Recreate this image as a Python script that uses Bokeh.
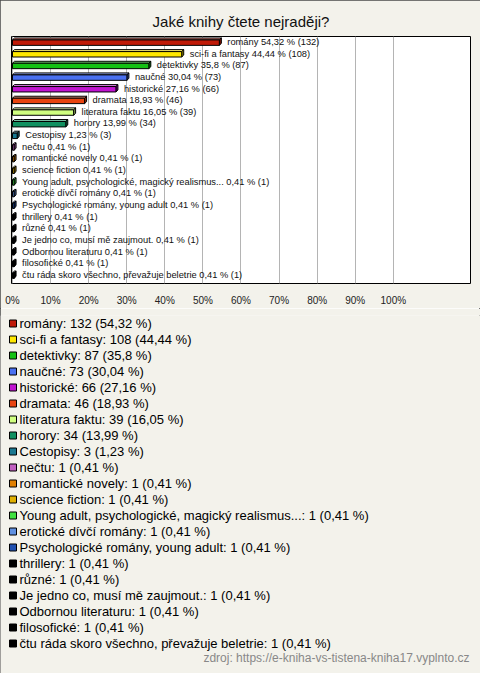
from bokeh.plotting import figure
from bokeh.layouts import column, row
from bokeh.models import Range1d, FixedTicker, PrintfTickFormatter, Label, ColumnDataSource
from bokeh.core.properties import value
from bokeh.embed import file_html
from bokeh.resources import INLINE

title_text = "Jaké knihy čtete nejraději?"
source_text = "zdroj: https://e-kniha-vs-tistena-kniha17.vyplnto.cz"

categories = [
    "romány", "sci-fi a fantasy", "detektivky", "naučné", "historické", "dramata",
    "literatura faktu", "horory", "Cestopisy", "nečtu", "romantické novely",
    "science fiction", "Young adult, psychologické, magický realismus...",
    "erotické dívčí romány", "Psychologické romány, young adult", "thrillery",
    "různé", "Je jedno co, musí mě zaujmout.", "Odbornou literaturu", "filosofické",
    "čtu ráda skoro všechno, převažuje beletrie",
]
counts = [132, 108, 87, 73, 66, 46, 39, 34, 3, 1, 1, 1, 1, 1, 1, 1, 1, 1, 1, 1, 1]
percents = [54.32, 44.44, 35.8, 30.04, 27.16, 18.93, 16.05, 13.99, 1.23,
            0.41, 0.41, 0.41, 0.41, 0.41, 0.41, 0.41, 0.41, 0.41, 0.41, 0.41, 0.41]
colors = ["#c01a08", "#ffe800", "#14c014", "#4a70f0", "#c014d0", "#e84410",
          "#d0ff80", "#109060", "#1a7890", "#c060c0", "#e08000", "#e0b000",
          "#40e040", "#6090e0", "#2050b0", "#000000", "#000000", "#000000",
          "#000000", "#000000", "#000000"]
tick_values = [0, 10, 20, 30, 40, 50, 60, 70, 80, 90, 100]

BG = "#f3f2eb"
FONT = "Liberation Sans"


def fmt(v):
    s = f"{v:.2f}".rstrip("0").rstrip(".")
    return s.replace(".", ",")


def mix(c, t, a):
    r, g, b = int(c[1:3], 16), int(c[3:5], 16), int(c[5:7], 16)
    return "#%02x%02x%02x" % tuple(int(round(x + (t - x) * a)) for x in (r, g, b))


bar_labels = [f"{c} {fmt(p)} % ({n})" for c, p, n in zip(categories, percents, counts)]
legend_labels = [f"{c}: {n} ({fmt(p)} %)" for c, p, n in zip(categories, percents, counts)]

# ---------------- bar chart ----------------
PX_X = 3.8      # px per percent
PX_Y = 11.84    # px per row
dx = 2.0 / PX_X
up = 2.0 / PX_Y
dn = 3.5 / PX_Y
dd = 2.0 / PX_Y

rows = list(range(len(categories)))

front = ColumnDataSource(dict(
    left=[0] * len(rows), right=percents,
    top=[r - up for r in rows], bottom=[r + dn for r in rows],
    color=colors))

top_xs, top_ys, side_xs, side_ys = [], [], [], []
for r, v in zip(rows, percents):
    t = r - up
    b = r + dn
    top_xs.append([0, dx, v + dx, v])
    top_ys.append([t, t - dd, t - dd, t])
    side_xs.append([v, v + dx, v + dx, v])
    side_ys.append([t, t - dd, b - dd, b])

p = figure(width=480, height=308, output_backend="svg", toolbar_location=None,
           x_range=Range1d(-0.26, 120.27), y_range=Range1d(20.735, -0.465),
           y_axis_location=None, min_border_left=11, min_border_right=10,
           min_border_top=36, min_border_bottom=21)
p.background_fill_color = "white"
p.border_fill_color = BG
p.outline_line_color = "black"
p.outline_line_width = 1
p.ygrid.visible = False
p.xgrid.grid_line_color = "#b4b4b4"
p.xgrid.ticker = FixedTicker(ticks=tick_values)

p.title.text = title_text
p.title.align = "center"
p.title.text_font = FONT
p.title.text_font_size = "15px"
p.title.text_font_style = "normal"
p.title.text_color = "#111111"
p.title.standoff = 14

ax = p.xaxis[0]
ax.ticker = FixedTicker(ticks=tick_values)
ax.formatter = PrintfTickFormatter(format="%d%%")
ax.axis_line_color = None
ax.major_tick_line_color = None
ax.minor_tick_line_color = None
ax.major_label_standoff = 5
ax.major_label_text_font = FONT
ax.major_label_text_font_size = "10px"
ax.major_label_text_color = "#222222"

p.patches(top_xs, top_ys, fill_color=[mix(c, 255, 0.45) for c in colors],
          line_color="black", line_width=1)
p.patches(side_xs, side_ys, fill_color=[mix(c, 0, 0.35) for c in colors],
          line_color="black", line_width=1)
p.quad(left="left", right="right", top="top", bottom="bottom", source=front,
       fill_color="color", line_color="black", line_width=1)

p.text(x=[v + dx for v in percents], y=rows, text=bar_labels,
       text_font=value(FONT), text_font_size="9.3px",
       text_baseline="middle", text_align="left", x_offset=6, text_color="#111111")

# ---------------- legend ----------------
LEG_PX = 16.0
q = figure(width=480, height=365, output_backend="svg", toolbar_location=None,
           x_range=Range1d(0, 480), y_range=Range1d(-0.5 + 358 / LEG_PX, -0.5),
           x_axis_location=None, y_axis_location=None,
           min_border_left=0, min_border_right=0, min_border_top=7, min_border_bottom=0)
q.background_fill_color = BG
q.border_fill_color = BG
q.outline_line_color = None
q.grid.visible = False

n = len(categories)
leg = ColumnDataSource(dict(row=rows, color=colors, label=legend_labels,
                            sx=[12.5] * n, tx=[19.0] * n))
q.rect(x="sx", y="row", width=7, height=7, width_units="screen", height_units="screen",
       source=leg, fill_color="color", line_color="black", line_width=1)
q.text(x="tx", y="row", text="label", source=leg, text_font=value(FONT),
       text_font_size="13px", text_baseline="middle", text_align="left",
       text_color="#000000")

q.add_layout(Label(x=469, y=16, x_units="screen", y_units="screen", text=source_text,
                   text_font=FONT, text_font_size="12px", text_align="right",
                   text_baseline="middle", text_color="#888888"))

layout = column(p, row(q, spacing=0), spacing=0,
                styles={"outline": "1px solid #4a4a4a", "outline-offset": "-1px"})

open("out.html", "w").write(file_html(layout, INLINE))
